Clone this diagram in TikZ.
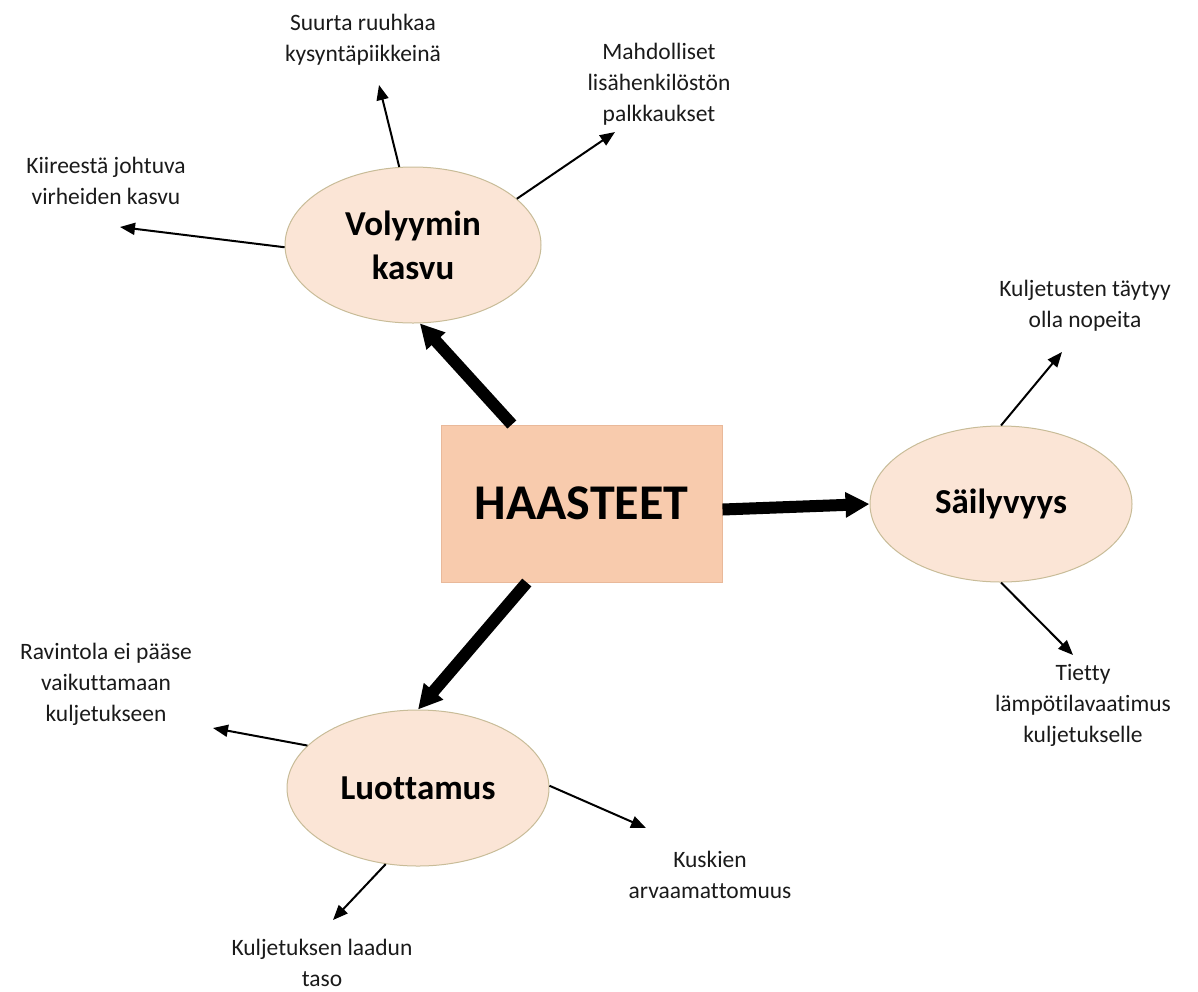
\documentclass[tikz,border=0pt]{standalone}
\usepackage{fontspec}
\setmainfont{Carlito}[Ligatures=NoCommon]
\usetikzlibrary{arrows.meta,calc,shapes.geometric}
\definecolor{boxfill}{HTML}{F8CBAD}
\definecolor{boxline}{HTML}{E9B99A}
\definecolor{ovalfill}{HTML}{FBE5D6}
\definecolor{ovalline}{HTML}{C8BC98}
\definecolor{txt}{HTML}{1A1A1A}
% keeps two letters apart so that no ligature joins them
\newcommand{\nolig}{\kern0pt{}}
\tikzset{
  mainbox/.style={draw=boxline, line width=1pt, fill=boxfill, minimum width=281pt, minimum height=157pt,
    inner sep=0pt, font=\fontsize{50}{60}\selectfont\bfseries},
  topic/.style={ellipse, draw=ovalline, line width=1pt, fill=ovalfill, minimum width=256pt, minimum height=156pt,
    inner sep=0pt, align=center, font=\fontsize{35}{44}\selectfont\bfseries},
  note/.style={align=center, inner sep=0pt, text=txt, font=\fontsize{23.5}{31}\selectfont},
  bigarrow/.style={line width=12pt, -{Triangle[length=24pt,width=24pt]}},
  smallarrow/.style={line width=2pt, -{Triangle[length=15pt,width=12pt]}},
}
\begin{document}
\begin{tikzpicture}[x=1pt,y=-1pt]
\useasboundingbox (0,0) rectangle (1198,991);

% central box and the three topics
\node[mainbox] (box) at (581.5,503.5) {HAASTEET};
\node[topic] (vol) at (413,245) {Volyymin\\kasvu};
\node[topic, minimum width=262pt] (sail) at (1001,504) {Säilyvyys};
\node[topic, minimum width=262pt] (luot) at (418,788) {Luot\nolig tamus};

% notes
\node[note] (n1) at (363,40) {Suurta ruuhkaa\\kysyntäpiikkeinä};
\node[note] (n2) at (659,84) {Mahdolliset\\lisähenkilöstön\\palkkaukset};
\node[note] (n3) at (106,181) {Kiireestä johtuva\\virheiden kasvu};
\node[note] (n4) at (1085,306) {Kuljetusten täytyy\\olla nopeita};
\node[note] (n5) at (1083,705) {Tiet\nolig ty\\lämpötilavaatimus\\kuljetukselle};
\node[note] (n6) at (106,684) {Ravintola ei pääse\\vaikut\nolig tamaan\\kuljetukseen};
\node[note] (n7) at (710,875) {Kuskien\\arvaamat\nolig tomuus};
\node[note] (n8) at (322,963) {Kuljetuksen laadun\\taso};

% arrow tips of the note connectors
\coordinate (t1) at (379,85);
\coordinate (t2) at (615,132);
\coordinate (t3) at (120,227);
\coordinate (t4) at (1062,352);
\coordinate (t5) at (1073,655);
\coordinate (t6) at (213,728);
\coordinate (t7) at (646,828);
\coordinate (t8) at (333,920);

% thick arrows from the box
\draw[bigarrow] ($(box.north west)!0.253!(box.north east)$) -- (vol.275);
\draw[bigarrow] ($(box.east)+(0,6)$) -- (sail.west);
\draw[bigarrow] ($(box.south west)!0.306!(box.south east)$) -- (luot.90);

% thin arrows towards the notes
\draw[smallarrow] (vol.100) -- (t1);
\draw[smallarrow] (vol.24) -- (t2);
\draw[smallarrow] (vol.181) -- (t3);
\draw[smallarrow] (sail.90) -- (t4);
\draw[smallarrow] (sail.270) -- (t5);
\draw[smallarrow] (luot.159) -- (t6);
\draw[smallarrow] (luot.1) -- (t7);
\draw[smallarrow] (luot.247) -- (t8);
\end{tikzpicture}
\end{document}
